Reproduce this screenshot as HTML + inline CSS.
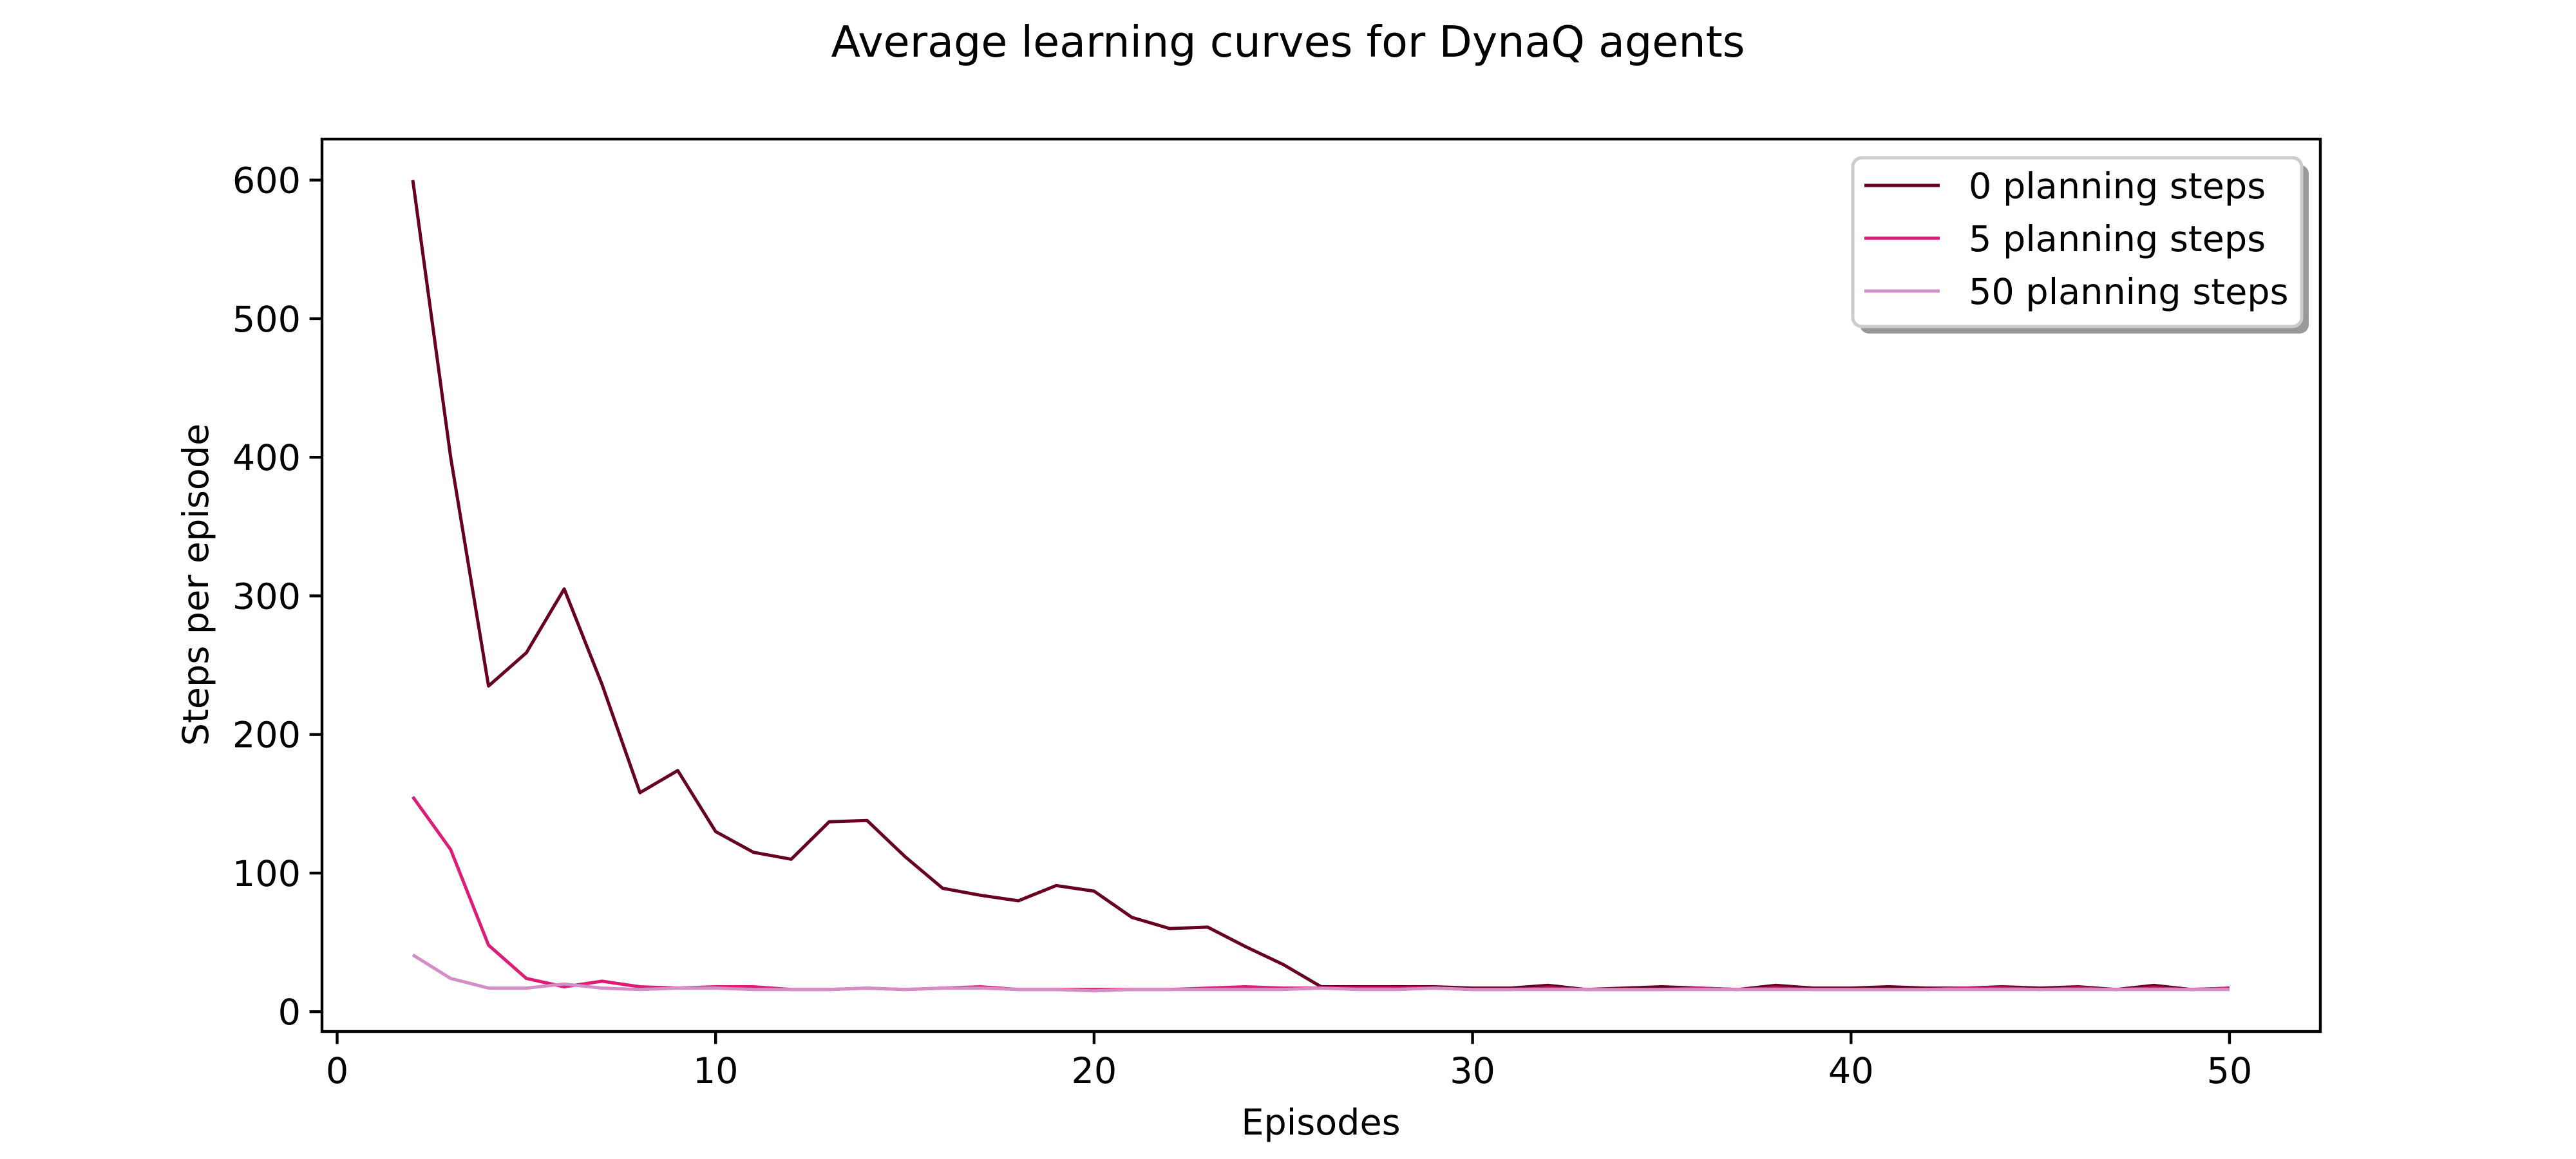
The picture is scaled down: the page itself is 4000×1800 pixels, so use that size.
<!DOCTYPE html>
<html><head><meta charset="utf-8"><style>
html,body{margin:0;padding:0;background:#fff;}
svg{display:block;font-family:"DejaVu Sans","Liberation Sans",sans-serif;}
</style></head><body>
<svg id="chart" width="4000" height="1800" viewBox="0 0 4000 1800" xmlns="http://www.w3.org/2000/svg">
<rect x="0" y="0" width="4000" height="1800" fill="#fff"/>
<text x="2000" y="88" font-size="66.7" text-anchor="middle">Average learning curves for DynaQ agents</text>
<g id="series"></g>
<g id="axes"></g>
<text x="2051" y="1762" font-size="55.6" text-anchor="middle">Episodes</text>
<text transform="translate(323,908) rotate(-90)" font-size="55.6" text-anchor="middle">Steps per episode</text>
<g>
  <rect x="2888" y="256" width="697" height="262" rx="14" fill="#999"/>
  <rect x="2877" y="245" width="697" height="262" rx="14" fill="#fff" stroke="#cccccc" stroke-width="5"/>
  <g>
    <line x1="2895" x2="3012" y1="288" y2="288" stroke="#67001f" stroke-width="5"/>
    <text x="3057" y="308" font-size="55.6">0 planning steps</text>
  </g>
  <g>
    <line x1="2895" x2="3012" y1="370" y2="370" stroke="#dd1c77" stroke-width="5"/>
    <text x="3057" y="390" font-size="55.6">5 planning steps</text>
  </g>
  <g>
    <line x1="2895" x2="3012" y1="452" y2="452" stroke="#d38ec6" stroke-width="5"/>
    <text x="3057" y="472" font-size="55.6">50 planning steps</text>
  </g>
</g>
</svg>
<script>
const episodes = [2,3,4,5,6,7,8,9,10,11,12,13,14,15,16,17,18,19,20,21,22,23,24,25,26,27,28,29,30,31,32,33,34,35,36,37,38,39,40,41,42,43,44,45,46,47,48,49,50];
const steps0 = [600,400,235,259,305,236,158,174,130,115,110,137,138,112,89,84,80,91,87,68,60,61,47,34,18,18,18,18,17,17,19,16,17,18,17,16,19,17,17,18,17,17,18,17,18,16,19,16,17];
const steps5 = [155,117,48,24,18,22,18,17,18,18,16,16,17,16,17,18,16,16,16,16,16,17,18,17,17,17,17,17,16,16,17,16,16,16,17,16,17,16,16,16,16,17,17,16,17,16,17,16,17];
const steps50 = [41,24,17,17,20,17,16,17,17,16,16,16,17,16,17,17,16,16,15,16,16,16,16,16,17,16,16,17,16,16,16,16,16,16,16,16,16,16,16,16,16,16,16,16,16,16,16,16,16];
const xTicks = [0,10,20,30,40,50];
const yTicks = [0,100,200,300,400,500,600];

const L=500,R=3603,T=216,B=1602;
const xMin=-0.4,xMax=52.4,yMin=-14.3,yMax=629.6;
function sx(v){return L+(v-xMin)/(xMax-xMin)*(R-L);}
function sy(v){return B-(v-yMin)/(yMax-yMin)*(B-T);}
const NS="http://www.w3.org/2000/svg";
const sg=document.getElementById('series');
function drawLine(vals,color,name){
  const p=document.createElementNS(NS,'polyline');
  
  
  p.setAttribute('points',vals.map((v,i)=>sx(episodes[i]).toFixed(1)+','+sy(v).toFixed(1)).join(' '));
  p.setAttribute('fill','none');p.setAttribute('stroke',color);p.setAttribute('stroke-width','5');
  p.setAttribute('stroke-linejoin','round');
  sg.appendChild(p);
}
drawLine(steps0,'#67001f','line-0-planning-steps');
drawLine(steps5,'#dd1c77','line-5-planning-steps');
drawLine(steps50,'#d38ec6','line-50-planning-steps');
const ag=document.getElementById('axes');
const frame=document.createElementNS(NS,'rect');


frame.setAttribute('x',L);frame.setAttribute('y',T);frame.setAttribute('width',R-L);frame.setAttribute('height',B-T);
frame.setAttribute('fill','none');frame.setAttribute('stroke','#000');frame.setAttribute('stroke-width','4.4');
ag.appendChild(frame);
xTicks.forEach(t=>{
  const x=sx(t);
  const l=document.createElementNS(NS,'line');
  
  
  l.setAttribute('x1',x);l.setAttribute('x2',x);l.setAttribute('y1',B);l.setAttribute('y2',B+19.4);
  l.setAttribute('stroke','#000');l.setAttribute('stroke-width','4.4');ag.appendChild(l);
  const tx=document.createElementNS(NS,'text');
  
  
  tx.setAttribute('x',x);tx.setAttribute('y',B+80);tx.setAttribute('font-size','55.6');tx.setAttribute('text-anchor','middle');
  tx.textContent=t;ag.appendChild(tx);
});
yTicks.forEach(t=>{
  const y=sy(t);
  const l=document.createElementNS(NS,'line');
  
  
  l.setAttribute('x1',L-19.4);l.setAttribute('x2',L);l.setAttribute('y1',y);l.setAttribute('y2',y);
  l.setAttribute('stroke','#000');l.setAttribute('stroke-width','4.4');ag.appendChild(l);
  const tx=document.createElementNS(NS,'text');
  
  
  tx.setAttribute('x',L-33);tx.setAttribute('y',y+20);tx.setAttribute('font-size','55.6');tx.setAttribute('text-anchor','end');
  tx.textContent=t;ag.appendChild(tx);
});
</script>
</body></html>
